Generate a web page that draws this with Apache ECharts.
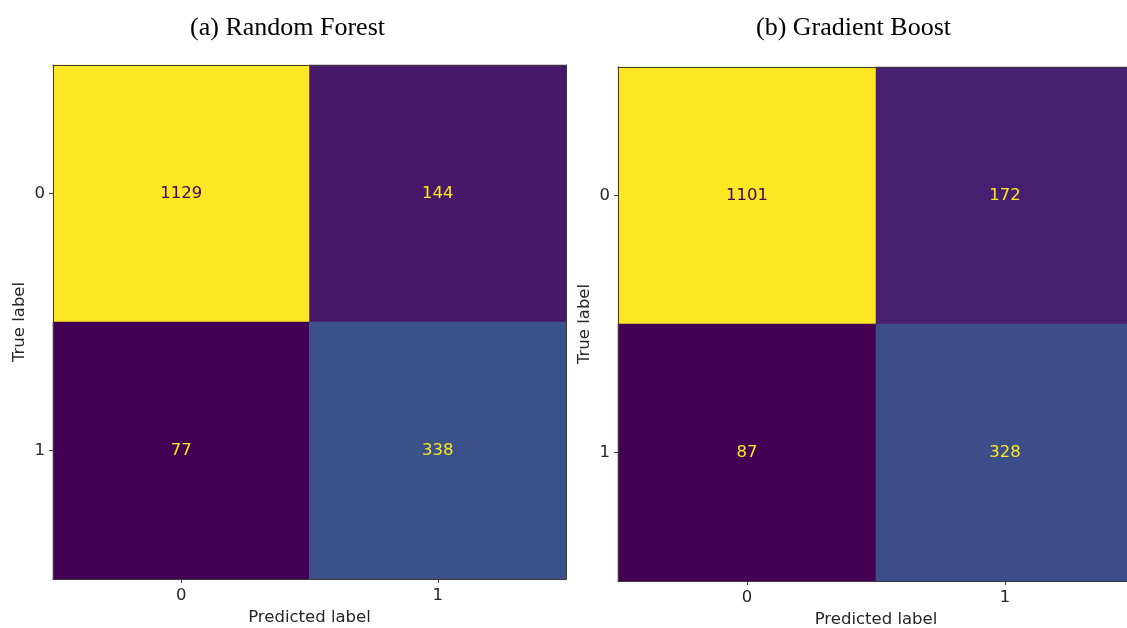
<!DOCTYPE html>
<html>
<head>
<meta charset="utf-8">
<style>
  html, body { margin: 0; padding: 0; background: #ffffff; overflow: hidden; }
  #chart { width: 1127px; height: 628px; }
</style>
<script src="https://cdn.jsdelivr.net/npm/echarts@6/dist/echarts.min.js"></script>
</head>
<body>
<div id="chart"></div>
<script>
// Confusion matrices for the two classifiers (rows: true label, cols: predicted label)
const classLabels = ['0', '1'];
const titles = ['(a) Random Forest', '(b) Gradient Boost'];
const randomForest = [
  [1129, 144],
  [77, 338]
];
const gradientBoost = [
  [1101, 172],
  [87, 328]
];

// viridis colour ramp
const viridis = ['#440154', '#482475', '#414487', '#355f8d', '#2a788e', '#21918c',
                 '#22a884', '#44bf70', '#7ad151', '#bddf26', '#fde725'];

const matrices = [randomForest, gradientBoost];
// the second panel runs a little past the right edge of the canvas
const grids = [
  { left: 53, top: 65, width: 513, height: 514 },
  { left: 618, top: 67, width: 516, height: 514 }
];
const titleCenters = [282.5, 848.5];

const axisTextColor = '#262626';
const frameColor = '#3a3a3a';
const font = 'DejaVu Sans';
const fontSize = 16.5;

const option = {
  animation: false,
  backgroundColor: '#ffffff',
  title: [],
  grid: [],
  xAxis: [],
  yAxis: [],
  visualMap: [],
  series: []
};

matrices.forEach((m, i) => {
  const flat = m.flat();
  const vmin = Math.min(...flat);
  const vmax = Math.max(...flat);
  const thresh = (vmin + vmax) / 2;

  option.title.push({
    text: titles[i],
    left: titleCenters[i],
    top: 10,
    textAlign: 'center',
    textStyle: { fontFamily: 'Liberation Serif', fontSize: 26, fontWeight: 'normal', color: '#000' }
  });

  option.grid.push(Object.assign({ containLabel: false, outerBoundsMode: 'none' }, grids[i]));

  // bottom x axis with ticks, labels and name
  option.xAxis.push({
    type: 'category', gridIndex: i, data: classLabels, position: 'bottom', z: 5,
    name: 'Predicted label', nameLocation: 'middle', nameGap: 29,
    nameTextStyle: { fontFamily: font, fontSize: fontSize, color: axisTextColor },
    axisLine: { show: true, lineStyle: { color: frameColor, width: 1 } },
    axisTick: { show: true, alignWithLabel: true, length: 4, lineStyle: { color: frameColor } },
    axisLabel: { fontFamily: font, fontSize: fontSize, color: axisTextColor, margin: 8 },
    splitLine: { show: false }
  });
  // top frame edge
  option.xAxis.push({
    type: 'category', gridIndex: i, data: classLabels, position: 'top', z: 5,
    axisLine: { show: true, lineStyle: { color: frameColor, width: 1 } },
    axisTick: { show: false }, axisLabel: { show: false }, splitLine: { show: false }
  });

  option.yAxis.push({
    type: 'category', gridIndex: i, data: classLabels, inverse: true, position: 'left', z: 5,
    name: 'True label', nameLocation: 'middle', nameGap: 25, nameRotate: 90,
    nameTextStyle: { fontFamily: font, fontSize: fontSize, color: axisTextColor },
    axisLine: { show: true, lineStyle: { color: frameColor, width: 1 } },
    axisTick: { show: true, alignWithLabel: true, length: 4, lineStyle: { color: frameColor } },
    axisLabel: { fontFamily: font, fontSize: fontSize, color: axisTextColor, margin: 8 },
    splitLine: { show: false }
  });
  // right frame edge
  option.yAxis.push({
    type: 'category', gridIndex: i, data: classLabels, inverse: true, position: 'right', z: 5,
    axisLine: { show: true, lineStyle: { color: frameColor, width: 1 } },
    axisTick: { show: false }, axisLabel: { show: false }, splitLine: { show: false }
  });

  option.visualMap.push({
    type: 'continuous', show: false, seriesIndex: i, dimension: 2,
    min: vmin, max: vmax,
    inRange: { color: viridis }
  });

  const data = [];
  m.forEach((row, r) => {
    row.forEach((v, c) => {
      data.push({
        value: [c, r, v],
        label: { color: v < thresh ? viridis[viridis.length - 1] : viridis[0] }
      });
    });
  });

  option.series.push({
    type: 'heatmap',
    xAxisIndex: i * 2,
    yAxisIndex: i * 2,
    data: data,
    z: 1,
    label: {
      show: true,
      fontFamily: font,
      fontSize: fontSize,
      formatter: p => String(p.value[2])
    },
    itemStyle: { borderWidth: 0 },
    emphasis: { disabled: true }
  });
});

const chart = echarts.init(document.getElementById('chart'), null, { renderer: 'canvas' });
chart.setOption(option);
</script>
</body>
</html>
